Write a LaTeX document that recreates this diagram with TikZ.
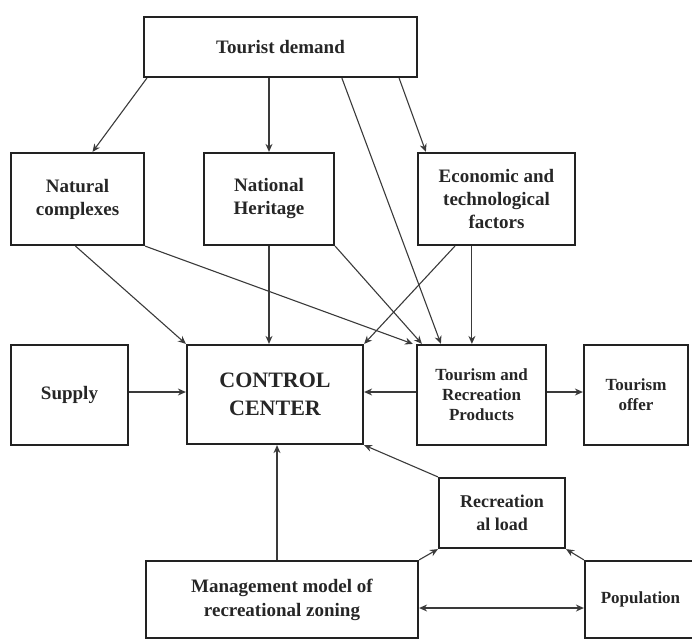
\documentclass[tikz,border=0pt]{standalone}
\usepackage{fontspec}
\setmainfont{Liberation Serif}
\usetikzlibrary{arrows.meta,calc}
\definecolor{boxline}{HTML}{222222}
\definecolor{arrline}{HTML}{3A3A3A}
\begin{document}
\begin{tikzpicture}[x=1pt,y=-1pt,
  box/.style={draw=boxline, line width=2.2pt, inner sep=0pt, align=center,
    font=\bfseries\fontsize{19}{23}\selectfont, text=black!85},
  smallbox/.style={box, font=\bfseries\fontsize{17}{20}\selectfont},
  arr/.style={draw=arrline, line width=1.1pt, -{Stealth[length=8pt,width=7pt]}},
  darr/.style={draw=arrline, line width=1.1pt, {Stealth[length=8pt,width=7pt]}-{Stealth[length=8pt,width=7pt]}}
]
\useasboundingbox (0,0) rectangle (692,640);

% boxes
\node[box, minimum width=273, minimum height=60] (td) at (280.5,47) {Tourist demand};
\node[box, minimum width=133, minimum height=92] (nat) at (77.5,199) {Natural\\complexes};
\node[box, minimum width=130, minimum height=92] (nh) at (269,199) {National\\Heritage};
\node[box, minimum width=157, minimum height=92] (eco) at (496.5,199) {Economic and\\technological\\factors};
\node[box, minimum width=117, minimum height=100] (sup) at (69.5,395) {Supply};
\node[box, minimum width=176, minimum height=99, font=\bfseries\fontsize{22}{28}\selectfont] (cc) at (275,394.5) {CONTROL\\CENTER};
\node[smallbox, minimum width=129, minimum height=100] (trp) at (481.5,395) {Tourism and\\Recreation\\Products};
\node[smallbox, minimum width=104, minimum height=100] (off) at (636,395) {Tourism\\offer};
\node[box, minimum width=126, minimum height=70, font=\bfseries\fontsize{18}{23}\selectfont] (rl) at (502,513) {Recreation\\al load};
\node[box, minimum width=272, minimum height=77, font=\bfseries\fontsize{19}{24}\selectfont] (mm) at (282,599.5) {Management model of\\recreational zoning};
\node[smallbox, minimum width=111, minimum height=77] (pop) at (640.5,599.5) {Population};

% helper coordinates
\coordinate (hy) at (0,392);
\coordinate (vx) at (277,0);
\coordinate (dy) at (0,608);
\coordinate (e2) at ($(eco.south west)+(55,0)$);

% connectors
\draw[arr] ($(td.south west)+(4,0)$) -- ($(nat.north)+(15,0)$);
\draw[arr] (td.south -| nh.north) -- (nh.north);
\draw[arr] ($(td.south west)+(199,0)$) -- ($(trp.north west)+(25,0)$);
\draw[arr] ($(td.south east)+(-19,0)$) -- ($(eco.north west)+(9,0)$);
\draw[arr] ($(nat.south)+(-2,0)$) -- (cc.north west);
\draw[arr] (nat.south east) -- ($(trp.north west)+(-3,0)$);
\draw[arr] (nh.south) -- (nh.south |- cc.north);
\draw[arr] (nh.south east) -- ($(trp.north west)+(6,0)$);
\draw[arr] ($(eco.south west)+(38,0)$) -- (cc.north east);
\draw[arr] (e2) -- (e2 |- trp.north);
\draw[arr] (sup.east |- hy) -- (cc.west |- hy);
\draw[arr] (trp.west |- hy) -- (cc.east |- hy);
\draw[arr] (trp.east |- hy) -- (off.west |- hy);
\draw[arr] (mm.north -| vx) -- (cc.south -| vx);
\draw[arr] (rl.north west) -- (cc.south east);
\draw[arr] (mm.north east) -- (rl.south west);
\draw[arr] (pop.north west) -- (rl.south east);
\draw[darr] (mm.east |- dy) -- (pop.west |- dy);
\end{tikzpicture}
\end{document}
